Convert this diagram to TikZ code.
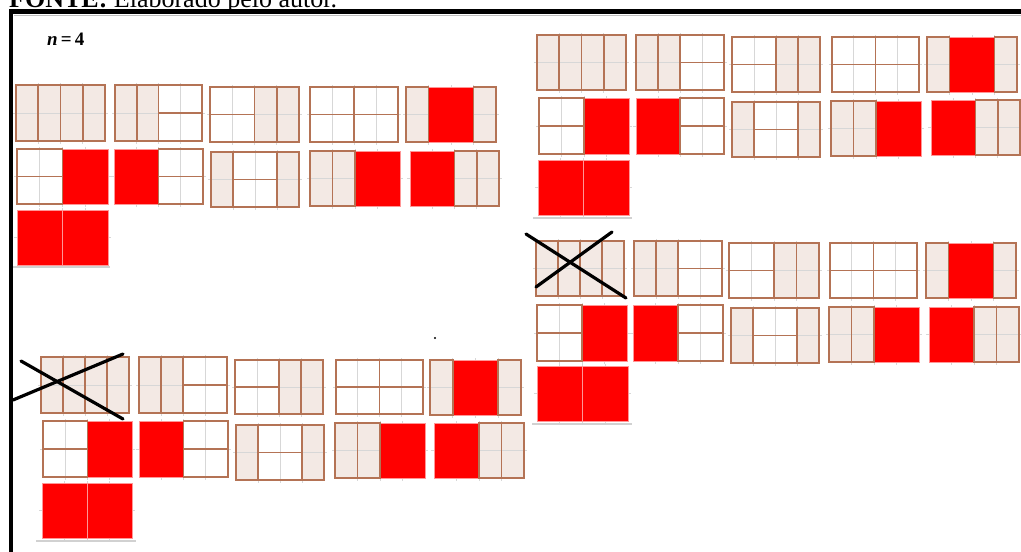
\documentclass[tikz,border=0pt]{standalone}
\usepackage{fontspec}
\setmainfont{Liberation Serif}
\definecolor{tbrown}{RGB}{180,115,85}
\definecolor{tbeige}{RGB}{243,233,228}
\definecolor{tgrid}{RGB}{215,215,215}
\definecolor{tred}{RGB}{255,0,0}
\definecolor{tredb}{RGB}{255,150,150}
\tikzset{
 vdom/.style={fill=tbeige},
 tborder/.style={draw=tbrown, line width=1.7pt},
 redsq/.style={fill=tred, draw=tredb, line width=0.8pt},
 gridln/.style={draw=tgrid, line width=0.7pt},
 crossln/.style={draw=black, line width=3.2pt, line cap=round},
 baseln/.style={draw=black!18, line width=1.5pt},
 frameln/.style={draw=black, line width=4.5pt}
}
\newcommand\pAV[1]{\fill[vdom] ({#1*\cw},0) rectangle ++(\cw,\hh);}
\newcommand\pAH[1]{\fill[white] ({#1*\cw},0) rectangle ++({2*\cw},\hh);}
\newcommand\pAS[1]{}
\newcommand\pBV[1]{}
\newcommand\pBH[1]{}
\newcommand\pBS[1]{\filldraw[redsq] ({#1*\cw},0) rectangle ++({2*\cw},\hh);}
\newcommand\pCV[1]{\draw[tborder] ({#1*\cw},0) rectangle ++(\cw,\hh);}
\newcommand\pCH[1]{\draw[tborder] ({#1*\cw},0) rectangle ++({2*\cw},{\hh/2}) ({#1*\cw},{\hh/2}) rectangle ++({2*\cw},{\hh/2});}
\newcommand\pCS[1]{}
\newcommand\tiling[5]{%
 \pgfmathsetmacro\cw{(#3-#1)/4}%
 \pgfmathsetmacro\hh{#4-#2}%
 \begin{scope}[shift={(#1,#2)}]
 \foreach \t/\c in #5 {\csname pA\t\endcsname{\c}}
 \draw[gridln] (-3,{\hh/2}) -- ({4*\cw+3},{\hh/2});
 \foreach \k in {1,2,3}{\draw[gridln] ({\k*\cw},-2) -- ({\k*\cw},{\hh+3});}
 \foreach \t/\c in #5 {\csname pB\t\endcsname{\c}}
 \foreach \t/\c in #5 {\csname pC\t\endcsname{\c}}
 \end{scope}}
\def\tlA{V/0,V/1,V/2,V/3}
\def\tlB{V/0,V/1,H/2}
\def\tlC{H/0,V/2,V/3}
\def\tlD{H/0,H/2}
\def\tlE{V/0,S/1,V/3}
\def\tlF{H/0,S/2}
\def\tlG{S/0,H/2}
\def\tlH{V/0,H/1,V/3}
\def\tlI{V/0,V/1,S/2}
\def\tlJ{S/0,V/2,V/3}
\def\tlK{S/0,S/2}
\begin{document}
\begin{tikzpicture}[x=1pt,y=-1pt]
\useasboundingbox (0,0) rectangle (1021,552);
\fill[white] (0,0) rectangle (1021,552);
% caption (cut off at top, as in the source)
\node[anchor=base west, font=\fontsize{26}{30}\selectfont, inner sep=0] (fonte) at (9,7) {\textbf{FONTE:} Elaborado pelo autor.};
% frame
\draw[black!25, line width=1pt] (14,15) -- (1021,15);
\draw[frameln] (9,11.5) -- (1021,11.5);
\draw[frameln, line width=4pt] (11,9.5) -- (11,552);
\node[anchor=base west, font=\fontsize{19}{22}\selectfont\bfseries, inner sep=0] (nlabel) at (47,45.5) {\textit{n}\,=\,4};
% group A (top left)
\tiling{16}{85}{105}{141}{\tlA}
\tiling{115}{85}{202}{141}{\tlB}
\tiling{210}{87}{299}{142}{\tlC}
\tiling{310}{87}{398}{142}{\tlD}
\tiling{406}{87}{496}{142}{\tlE}
\tiling{17}{149}{108}{204}{\tlF}
\tiling{114}{149}{203}{204}{\tlG}
\tiling{211}{152}{299}{207}{\tlH}
\tiling{310}{151}{400}{206}{\tlI}
\tiling{410}{151}{499}{206}{\tlJ}
\tiling{17}{210}{108}{265}{\tlK}
\draw[baseln] (13,267) -- (110,267);
% group B (top right)
\tiling{537}{35}{626}{90}{\tlA}
\tiling{636}{35}{724}{90}{\tlB}
\tiling{732}{37}{820}{92}{\tlC}
\tiling{832}{37}{919}{92}{\tlD}
\tiling{927}{37}{1017}{92}{\tlE}
\tiling{539}{98}{629}{154}{\tlF}
\tiling{636}{98}{724}{154}{\tlG}
\tiling{732}{102}{820}{157}{\tlH}
\tiling{831}{101}{921}{156}{\tlI}
\tiling{931}{100}{1020}{155}{\tlJ}
\tiling{538}{160}{629}{215}{\tlK}
\draw[baseln] (533,218) -- (632,218);
% group C (middle right)
\tiling{536}{241}{624}{296}{\tlA}
\tiling{634}{241}{722}{296}{\tlB}
\tiling{729}{243}{819}{298}{\tlC}
\tiling{830}{243}{917}{298}{\tlD}
\tiling{926}{243}{1016}{298}{\tlE}
\tiling{537}{305}{627}{361}{\tlF}
\tiling{633}{305}{723}{361}{\tlG}
\tiling{731}{308}{819}{363}{\tlH}
\tiling{829}{307}{919}{362}{\tlI}
\tiling{929}{307}{1019}{362}{\tlJ}
\tiling{537}{366}{628}{421}{\tlK}
\draw[baseln] (532,424) -- (632,424);
\draw[crossln] (526,234) -- (626,298);
\draw[crossln] (536,287) -- (612,232);
% group D (bottom left)
\tiling{41}{357}{129}{413}{\tlA}
\tiling{139}{357}{227}{413}{\tlB}
\tiling{235}{360}{323}{414}{\tlC}
\tiling{336}{360}{423}{414}{\tlD}
\tiling{430}{360}{521}{415}{\tlE}
\tiling{43}{421}{132}{477}{\tlF}
\tiling{139}{421}{228}{477}{\tlG}
\tiling{236}{425}{324}{480}{\tlH}
\tiling{335}{423}{425}{478}{\tlI}
\tiling{434}{423}{524}{478}{\tlJ}
\tiling{42}{483}{132}{538}{\tlK}
\draw[baseln] (36,541) -- (136,541);
\draw[crossln] (21,361) -- (123,419);
\draw[crossln] (13,400) -- (123,354);
% stray dot
\fill[black] (435,338) circle (1.1);
\end{tikzpicture}
\end{document}
